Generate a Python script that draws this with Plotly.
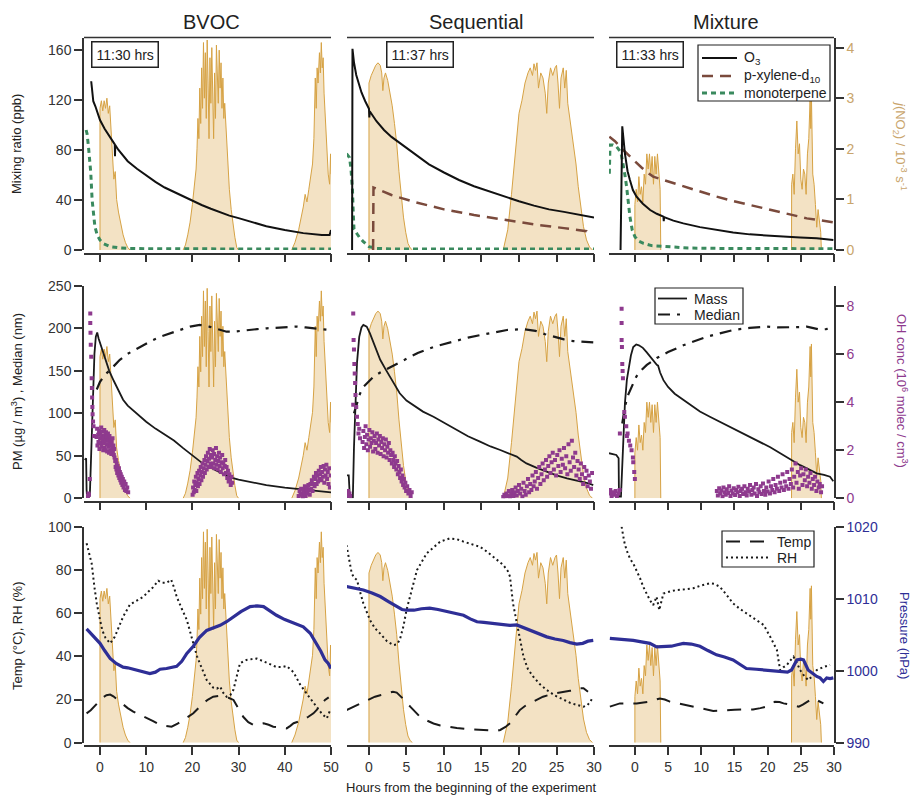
import plotly.graph_objects as go

W, H = 914, 795
FONT = "Liberation Sans, Arial, sans-serif"
AX = "#333333"
J_LINE = "#d6a244"
J_FILL = "#f3e2c4"
OH_COL = "#8e3a8e"
P_COL = "#2e2e96"
J_TXT = "#c9a56c"
O3_COL = "#111111"
PX_COL = "#7a4a3c"
MT_COL = "#3a8a5e"

PANEL_TITLES = ["BVOC", "Sequential", "Mixture"]
START_TIMES = ["11:30 hrs", "11:37 hrs", "11:33 hrs"]
X_RANGES = [[-3.46, 50.0], [-2.93, 30.0], [-3.9, 30.0]]
X_TICKS = [[0, 10, 20, 30, 40, 50], [0, 5, 10, 15, 20, 25, 30], [0, 5, 10, 15, 20, 25, 30]]
LEFT_RANGES = [[0, 170], [0, 250], [0, 100]]
LEFT_TICKS = [[0, 40, 80, 120, 160], [0, 50, 100, 150, 200, 250], [0, 20, 40, 60, 80, 100]]
J_RANGE = [0, 4.2]
J_TICKS = [0, 1, 2, 3, 4]
OH_RANGE = [0, 8.854]
OH_TICKS = [0, 2, 4, 6, 8]
P_RANGE = [990, 1020]
P_TICKS = [990, 1000, 1010, 1020]

# ---------------- j(NO2) (10^-3 s^-1), one list per daylight period ----------------
BVOC_J = [
    [(0, 0), (0.0, 2.8), (0.3, 2.95), (0.6, 2.75), (0.9, 2.95), (1.2, 2.8), (1.5, 3.0), (1.8, 2.7),
     (2.1, 2.85), (2.4, 2.4), (2.7, 1.9), (3.0, 1.4), (3.3, 1.55), (3.6, 1.0), (4.0, 0.75), (4.5, 0.5),
     (5.0, 0.3), (5.5, 0.15), (6.0, 0.05), (6.5, 0)],
    [(18.0, 0), (18.5, 0.1), (19.0, 0.3), (19.5, 0.55), (20.0, 0.9), (20.4, 1.2), (20.8, 1.6), (21.0, 2.0),
     (21.2, 2.6), (21.4, 2.2), (21.6, 3.2), (21.8, 2.5), (22.0, 3.6), (22.2, 2.8), (22.4, 4.1), (22.6, 3.0),
     (22.8, 3.9), (23.0, 2.6), (23.2, 4.15), (23.4, 3.3), (23.6, 2.2), (23.8, 3.8), (24.0, 2.9), (24.2, 4.0),
     (24.4, 3.1), (24.6, 2.2), (24.8, 3.5), (25.0, 2.6), (25.2, 4.05), (25.4, 3.4), (25.6, 2.9), (25.8, 3.95),
     (26.0, 3.2), (26.2, 3.7), (26.4, 2.8), (26.6, 3.4), (26.8, 2.6), (27.0, 2.9), (27.3, 2.3), (27.6, 1.8),
     (28.0, 1.2), (28.4, 0.8), (28.8, 0.5), (29.2, 0.25), (29.6, 0.05), (30.0, 0)],
    [(41.5, 0), (42.2, 0.15), (43.0, 0.4), (43.5, 0.6), (44.0, 0.85), (44.4, 1.1), (44.8, 0.95), (45.2, 1.2),
     (45.6, 1.5), (46.0, 1.7), (46.3, 2.2), (46.6, 3.4), (46.8, 2.8), (47.0, 3.6), (47.2, 3.3), (47.5, 3.9),
     (47.7, 3.5), (47.9, 4.1), (48.1, 3.6), (48.3, 3.8), (48.5, 3.1), (48.8, 2.6), (49.1, 2.0), (49.4, 1.5),
     (49.7, 1.3), (49.9, 1.9), (50.0, 1.5)],
]
SEQ_J = [
    [(0, 0), (0.0, 3.3), (0.3, 3.45), (0.6, 3.55), (0.9, 3.65), (1.2, 3.7), (1.5, 3.65), (1.7, 3.5),
     (1.85, 3.15), (2.0, 3.4), (2.2, 3.5), (2.5, 3.35), (2.8, 3.1), (3.1, 2.85), (3.4, 2.5), (3.7, 2.1),
     (4.0, 1.55), (4.3, 1.05), (4.6, 0.65), (4.9, 0.35), (5.2, 0.13), (5.5, 0.04), (5.8, 0)],
    [(17.9, 0), (18.5, 0.4), (19.0, 1.1), (19.4, 1.8), (19.7, 2.3), (20.0, 2.7), (20.4, 2.96), (20.8, 3.3),
     (21.2, 3.5), (21.5, 3.6), (21.8, 3.45), (22.0, 3.68), (22.2, 3.55), (22.4, 3.7), (22.6, 3.2), (22.9, 3.5),
     (23.2, 3.4), (23.5, 3.1), (23.7, 2.7), (23.9, 3.3), (24.2, 3.6), (24.5, 3.45), (24.8, 3.6), (25.0, 3.65),
     (25.2, 3.3), (25.4, 2.8), (25.6, 3.4), (25.9, 3.6), (26.1, 3.2), (26.3, 3.55), (26.5, 2.9), (26.8, 2.6),
     (27.2, 2.17), (27.6, 1.7), (27.9, 1.25), (28.3, 0.8), (28.6, 0.46), (29.0, 0.2), (29.4, 0.06), (29.8, 0)],
]
MIX_J = [
    [(0, 0), (0.0, 0.9), (0.2, 1.2), (0.4, 0.95), (0.6, 1.45), (0.8, 1.1), (1.0, 1.25), (1.2, 0.95),
     (1.4, 1.5), (1.6, 1.3), (1.8, 1.9), (2.0, 1.6), (2.2, 1.9), (2.4, 1.5), (2.6, 1.85), (2.8, 1.3),
     (3.0, 1.85), (3.2, 1.5), (3.4, 1.9), (3.6, 1.6), (3.8, 1.2), (3.9, 0)],
    [(23.6, 0), (23.62, 1.3), (23.8, 1.5), (24.0, 1.1), (24.2, 2.0), (24.4, 2.55), (24.6, 1.9), (24.8, 2.1),
     (25.0, 1.4), (25.2, 1.2), (25.4, 1.6), (25.6, 1.5), (25.8, 1.1), (26.0, 1.9), (26.2, 2.2), (26.4, 3.0),
     (26.5, 2.4), (26.6, 3.05), (26.8, 1.5), (27.0, 1.3), (27.2, 0.9), (27.4, 0.45), (27.6, 0.8), (27.8, 0.6),
     (28.0, 0.35), (28.1, 0)],
]

# ---------------- Row 1: mixing ratios (ppb) ----------------
BVOC_O3 = [(-1.9, 135), (-1.7, 126), (-1.45, 119), (-1.0, 115), (-0.5, 110), (0, 104), (1, 97), (2, 91),
           (3, 85.5), (3.2, 84.5), (3.25, 75), (3.3, 84), (4, 80), (5, 75), (6, 71), (8, 65), (10, 59.5),
           (12, 54.5), (14, 50), (16, 46.5), (18, 42.5), (20, 39), (22, 36), (24, 33), (26, 30), (28, 27.5),
           (30, 25.5), (33, 22), (36, 19), (40, 16), (44, 13.5), (48, 12), (49.7, 12), (50, 16)]
SEQ_O3 = [(-2.25, 0), (-2.2, 161), (-2.0, 150), (-1.7, 140), (-1.4, 134), (-1.0, 126), (-0.5, 119), (0, 113),
          (0.05, 106), (0.1, 111), (1, 103), (2, 96), (3, 90.5), (4, 86), (5, 81.5), (6, 77), (8, 68.5),
          (10, 62), (12, 56), (14, 51), (16, 47), (18, 42.5), (20, 39), (22, 35.5), (24, 32.5), (26, 30.5),
          (28, 28.5), (30, 26)]
MIX_O3 = [(-2.16, 0), (-1.9, 99), (-1.5, 77), (-1.1, 63), (-0.75, 56), (-0.3, 48), (0.25, 42.7), (1.2, 37),
          (2.3, 32), (3.3, 29), (4.3, 26.7), (4.35, 23), (4.4, 26.3), (5.8, 23.5), (7.3, 21.3), (9.8, 18.3),
          (12.3, 16), (14.8, 14), (17.3, 12.5), (19.9, 11.5), (22.4, 10.7), (24.9, 10), (27.4, 9.3),
          (29.0, 8.6), (29.9, 8)]
SEQ_PX = [(0.55, 0), (0.6, 50), (1, 49), (3, 44), (6, 38.5), (10, 32.5), (14, 28), (18, 24), (22, 20.5),
          (26, 17.5), (29, 15), (29.4, 12)]
MIX_PX = [(-3.85, 90.7), (-3, 87), (-1.76, 80), (-0.8, 75), (-0.25, 72), (1, 66), (2.0, 61.5), (2.76, 58.7),
          (4.3, 56), (5.8, 53.5), (7.3, 50.7), (9.8, 46.5), (12.3, 42.7), (14.8, 39.2), (17.3, 36),
          (19.9, 32.5), (22.4, 29.3), (24.2, 27), (25.9, 25.3), (27.6, 24), (29.4, 22.7), (30, 22)]
BVOC_MT = [(-3.0, 96), (-2.8, 93), (-2.5, 83), (-2.2, 72), (-2.0, 62), (-1.7, 40), (-1.4, 27), (-1.1, 18.7),
           (-0.6, 12), (0, 8), (0.8, 5), (2.2, 2.7), (4, 1.8), (6, 1.3), (10, 1.0), (20, 0.8), (30, 0.8),
           (40, 0.8), (50, 0.8)]
SEQ_MT = [(-3.0, 77), (-2.6, 74), (-2.4, 65), (-2.2, 48), (-2.1, 30), (-2.0, 17), (-1.6, 13), (-1.2, 9.5),
          (-0.75, 6.7), (0, 2.7), (1, 1.3), (3, 0.8), (10, 0.7), (20, 0.7), (30, 0.7)]
MIX_MT = [(-3.85, 61), (-3.75, 84), (-3.3, 84), (-2.76, 82.7), (-2.1, 78), (-1.8, 70), (-1.5, 60),
          (-1.25, 50.7), (-1.0, 37), (-0.75, 26.7), (-0.4, 16), (0, 10.7), (0.6, 7), (1.3, 5.3), (2.5, 3.5),
          (4.8, 2.7), (8, 1.6), (12, 1.3), (20, 1.0), (30, 1.0)]

# ---------------- Row 2: PM mass (ug/m3), median diameter (nm), OH (1e6 molec/cm3) ----------------
BVOC_MASS = [(-3.3, 45), (-3.0, 47), (-2.9, 10), (-2.8, 2), (-2.2, 3), (-1.9, 60), (-1.5, 120), (-1.2, 170),
             (-0.9, 190), (-0.6, 195), (-0.3, 188), (0.3, 178), (1, 165), (2, 150), (3, 138), (4, 126),
             (5, 116), (6, 109), (8, 99), (10, 90), (12, 82), (14, 75), (16, 68), (18, 59), (20, 50), (22, 42),
             (24, 36), (26, 30), (28, 25), (30, 22), (33, 18.5), (36, 15.5), (40, 12.5), (44, 10), (48, 8),
             (50, 7)]
SEQ_MASS = [(-3.0, 27), (-2.7, 27), (-2.55, 1), (-2.15, 1), (-2.0, 60), (-1.8, 120), (-1.6, 159), (-1.3, 190),
            (-1.0, 201), (-0.75, 204), (-0.3, 202), (0.13, 194), (0.8, 178), (1.5, 163), (2.2, 152),
            (2.8, 143), (3.5, 132), (4.1, 123.5), (5.0, 115), (5.9, 110), (7.2, 102), (8.6, 96), (10.2, 88),
            (11.7, 80), (13.2, 73), (14.8, 66.6), (16.2, 61), (17.5, 56.8), (18.6, 53), (19.7, 49), (20.3, 45),
            (21, 41), (22.3, 36), (23.7, 31.3), (25, 27), (26.4, 23.5), (27.5, 21.5), (28.6, 19.5),
            (29.3, 17.5), (29.9, 15.6)]
MIX_MASS = [(-3.9, 53), (-3.3, 52), (-2.8, 51), (-2.45, 47), (-2.4, 2), (-2.1, 2), (-1.8, 60), (-1.5, 112),
            (-1.2, 140), (-1.0, 151), (-0.6, 168), (-0.25, 178), (0.2, 181), (0.6, 180), (1.2, 177),
            (1.76, 172), (2.4, 166), (3.0, 159), (3.3, 157), (3.5, 156), (3.8, 148), (4.3, 139), (5.0, 131),
            (6.0, 123), (7.3, 115.5), (8.5, 108.5), (9.8, 102), (11.3, 96), (12.8, 90), (14.3, 84), (15.8, 78),
            (17.3, 72.5), (18.9, 66.5), (20.4, 60), (21.9, 53), (23.4, 46), (24.9, 39), (26.2, 34),
            (27.4, 29.4), (28.5, 27.5), (29.4, 25.4), (29.9, 20)]
BVOC_MED = [(-0.7, 128), (0, 137), (1, 145), (2.2, 151), (4.3, 163), (6, 170), (8.7, 178), (11, 185),
            (13, 190), (15, 194), (17.3, 198), (19.5, 202), (21.6, 204), (23.6, 202), (25.3, 199), (27.4, 196),
            (28.9, 196), (31.7, 198), (34, 199), (36.1, 200), (39, 201), (42.5, 202), (44.5, 201), (46.2, 200),
            (48, 199), (49.8, 198)]
SEQ_MED = [(-2.0, 100), (-1.6, 112), (-1.2, 123), (-0.75, 131), (0, 138), (0.6, 143), (1.5, 148), (2.8, 154),
           (4, 160), (5.0, 165), (6.5, 171), (8.6, 178), (10.2, 182), (11.7, 186), (13.2, 189), (14.8, 192),
           (16.6, 195), (18.4, 198), (20.6, 199), (22.2, 197), (23.5, 193), (24.6, 190), (26, 187),
           (27.2, 185), (28.5, 184), (29.9, 183.5)]
MIX_MED = [(-1.9, 88), (-1.5, 108), (-1.0, 122), (-0.5, 131), (0.2, 143), (0.76, 149), (1.8, 157), (3.3, 165),
           (5, 172), (7.3, 180), (9, 185), (10.8, 190), (12.8, 194), (14.8, 198), (17.3, 200.5), (19.9, 202),
           (21.5, 201), (23.4, 201), (25, 201.5), (25.9, 202), (27, 200), (27.9, 198.5), (28.8, 199),
           (29.4, 200)]
BVOC_OH = [(-2.6, 0.1), (-2.5, 0.2), (-2.4, 0.15), (-2.2, 0.8), (-2.1, 7.7), (-2.1, 7.3), (-2.05, 6.9),
           (-2.0, 6.4), (-1.9, 5.9), (-1.8, 5.0), (-1.75, 4.6), (-1.7, 4.2), (-1.65, 3.8), (-1.6, 3.5),
           (-1.5, 3.2), (-1.4, 3.0), (-1.3, 2.6),
           (-0.75, 2.55), (-0.62, 2.9), (-0.55, 2.2), (-0.4, 2.65), (-0.33, 2.35), (-0.2, 2.8), (-0.12, 2.05),
           (0.02, 2.5), (0.1, 2.72), (0.18, 2.3), (0.27, 2.95), (0.35, 2.15), (0.44, 2.6), (0.52, 2.4),
           (0.6, 2.78), (0.7, 2.0), (0.77, 2.52), (0.85, 2.3), (0.93, 2.85), (1.0, 2.1), (1.08, 2.62),
           (1.17, 2.4), (1.25, 2.0), (1.3, 2.75), (1.4, 2.25), (1.48, 2.55), (1.55, 1.95), (1.63, 2.45),
           (1.72, 2.7), (1.8, 2.15), (1.87, 2.4), (1.95, 1.9), (2.05, 2.6), (2.12, 2.3), (2.2, 2.0),
           (2.3, 2.45), (2.38, 2.2), (2.45, 1.85), (2.55, 2.35), (2.63, 2.1), (2.72, 2.5), (2.8, 1.95),
           (2.9, 2.2), (3.0, 1.8), (3.07, 2.05), (3.15, 1.7),
           (3.3, 1.55), (3.38, 1.3), (3.45, 1.6), (3.55, 1.2), (3.62, 1.45), (3.72, 1.05), (3.8, 1.35),
           (3.9, 1.15), (3.98, 0.95), (4.1, 1.25), (4.18, 0.85), (4.3, 1.1), (4.4, 0.75), (4.5, 1.0),
           (4.6, 0.65), (4.72, 0.9), (4.85, 0.55), (4.95, 0.8), (5.1, 0.45), (5.25, 0.7), (5.4, 0.35),
           (5.55, 0.6), (5.7, 0.3), (5.9, 0.45), (6.1, 0.25),
           (20.05, 0.15), (20.15, 0.45), (20.3, 0.25), (20.4, 0.7), (20.5, 0.35), (20.62, 0.55), (20.75, 0.9),
           (20.85, 0.3), (20.95, 0.65), (21.1, 1.05), (21.2, 0.5), (21.3, 0.8), (21.45, 1.15), (21.55, 0.6),
           (21.7, 0.95), (21.8, 1.3), (21.95, 0.75), (22.05, 1.1), (22.2, 1.45), (22.3, 0.9), (22.45, 1.25),
           (22.6, 1.6), (22.7, 1.05), (22.85, 1.4), (22.95, 1.75), (23.1, 1.2), (23.25, 1.55), (23.35, 1.9),
           (23.5, 1.3), (23.6, 1.65), (23.75, 2.05), (23.9, 1.45), (24.0, 1.8), (24.15, 1.3), (24.3, 1.7),
           (24.4, 2.0), (24.55, 1.45), (24.7, 1.85), (24.8, 1.25), (24.95, 1.6), (25.1, 2.1), (25.2, 1.4),
           (25.35, 1.75), (25.5, 1.2), (25.6, 1.55), (25.75, 1.9), (25.9, 1.35), (26.0, 1.7), (26.15, 1.1),
           (26.3, 1.5), (26.45, 1.8), (26.55, 1.25), (26.7, 1.45), (26.85, 1.0), (27.0, 1.35), (27.1, 1.6),
           (27.25, 1.05), (27.4, 1.3), (27.55, 0.85), (27.7, 1.15), (27.85, 0.7), (28.0, 1.0), (28.15, 0.8),
           (28.3, 0.55), (28.45, 0.9), (28.6, 0.65),
           (43.0, 0.1), (43.2, 0.3), (43.4, 0.15), (43.55, 0.4), (43.7, 0.2), (43.9, 0.05), (44.05, 0.35),
           (44.2, 0.2), (44.35, 0.5), (44.5, 0.1), (44.65, 0.3), (44.8, 0.45), (44.95, 0.2), (45.1, 0.55),
           (45.25, 0.35), (45.4, 0.15), (45.55, 0.6), (45.7, 0.4), (45.85, 0.75), (46.0, 0.3), (46.15, 0.6),
           (46.3, 0.9), (46.45, 0.5), (46.6, 0.8), (46.75, 1.05), (46.9, 0.6), (47.05, 0.95), (47.2, 0.7),
           (47.35, 1.15), (47.5, 0.8), (47.65, 1.0), (47.8, 1.3), (47.95, 0.75), (48.1, 1.1), (48.25, 0.9),
           (48.4, 1.35), (48.55, 0.65), (48.7, 1.2), (48.85, 0.95), (49.0, 1.4), (49.15, 0.8), (49.3, 1.1),
           (49.45, 0.6), (49.6, 1.25), (49.75, 0.45), (49.9, 0.95)]
SEQ_OH = [(-2.9, 0.15), (-2.8, 0.3), (-2.7, 0.1), (-2.6, 0.2), (-2.5, 0.1),
          (-2.1, 7.7), (-2.05, 6.6), (-2.0, 6.2), (-1.95, 5.6), (-1.9, 5.2), (-1.85, 4.8), (-1.8, 4.3),
          (-2.1, 3.9), (-1.7, 3.8), (-1.6, 3.4), (-1.5, 3.1), (-1.4, 2.7), (-1.3, 2.9), (-1.2, 2.5),
          (-0.85, 2.35), (-0.75, 2.8), (-0.65, 2.1), (-0.55, 2.55), (-0.45, 3.0), (-0.35, 2.25), (-0.25, 2.65),
          (-0.15, 2.0), (-0.05, 2.45), (0.05, 2.85), (0.15, 2.15), (0.25, 2.5), (0.35, 2.3), (0.45, 2.75),
          (0.55, 1.95), (0.65, 2.4), (0.75, 2.6), (0.85, 2.05), (0.95, 2.3), (1.05, 2.7), (1.15, 1.9),
          (1.25, 2.45), (1.35, 2.2), (1.45, 2.6), (1.55, 1.85), (1.65, 2.35), (1.75, 2.1), (1.85, 2.5),
          (1.95, 1.75), (2.05, 2.25), (2.15, 2.0), (2.25, 2.45), (2.35, 1.7), (2.45, 2.15), (2.55, 1.9),
          (2.65, 2.3), (2.75, 1.6), (2.85, 2.0), (2.95, 1.8), (3.05, 1.45), (3.15, 1.9), (3.25, 1.6),
          (3.35, 1.3), (3.45, 1.75), (3.55, 1.45), (3.65, 1.2), (3.75, 1.55), (3.85, 1.0), (3.95, 1.35),
          (4.05, 1.1), (4.15, 0.85), (4.25, 1.2), (4.35, 0.7), (4.45, 0.95), (4.55, 0.55), (4.65, 0.8),
          (4.75, 0.45), (4.85, 0.65), (4.95, 0.3), (5.1, 0.5), (5.25, 0.2), (5.4, 0.35), (5.55, 0.1),
          (5.7, 0.25),
          (17.9, 0.05), (18.05, 0.15), (18.2, 0.08), (18.35, 0.2), (18.5, 0.1), (18.65, 0.3), (18.8, 0.05),
          (18.95, 0.18), (19.1, 0.35), (19.25, 0.1), (19.4, 0.25), (19.55, 0.45), (19.7, 0.12), (19.85, 0.3),
          (20.0, 0.55), (20.15, 0.2), (20.3, 0.4), (20.45, 0.08), (20.6, 0.65), (20.75, 0.3), (20.9, 0.15),
          (21.05, 0.5), (21.2, 0.8), (21.35, 0.25), (21.5, 0.6), (21.65, 0.35), (21.8, 0.95), (21.95, 0.5),
          (22.1, 0.7), (22.25, 1.1), (22.4, 0.4), (22.55, 0.85), (22.7, 1.3), (22.85, 0.6), (23.0, 1.0),
          (23.15, 1.45), (23.3, 0.75), (23.45, 1.2), (23.6, 1.6), (23.75, 0.9), (23.9, 1.35), (24.05, 1.75),
          (24.2, 1.05), (24.35, 1.5), (24.5, 1.9), (24.65, 1.2), (24.8, 1.6), (24.95, 0.95), (25.1, 1.8),
          (25.25, 1.35), (25.4, 2.0), (25.55, 1.1), (25.7, 1.65), (25.85, 1.4), (26.0, 2.1), (26.15, 1.25),
          (26.3, 1.75), (26.45, 1.0), (26.6, 2.25), (26.75, 1.5), (26.9, 1.15), (27.05, 2.4), (27.2, 1.7),
          (27.35, 1.3), (27.5, 1.9), (27.65, 0.95), (27.8, 1.55), (27.95, 1.2), (28.1, 0.8), (28.25, 1.45),
          (28.4, 1.0), (28.55, 0.6), (28.7, 1.3), (28.85, 0.85), (29.0, 1.15), (29.15, 0.5), (29.3, 0.95),
          (29.45, 0.7), (29.6, 0.4), (29.75, 1.05)]
MIX_OH = [(-3.9, 0.2), (-3.7, 0.35), (-3.5, 0.1), (-3.3, 0.25), (-3.1, 0.15), (-2.9, 0.3), (-2.7, 0.1),
          (-2.5, 0.2), (-2.3, 0.35), (-2.26, 2.7),
          (-2.0, 7.9), (-2.0, 7.3), (-2.0, 6.6), (-1.95, 6.3), (-1.9, 5.6), (-1.85, 5.3), (-1.8, 5.0),
          (-1.6, 3.6), (-1.5, 3.4), (-1.3, 3.0), (-1.2, 2.6), (-1.1, 2.7), (-0.9, 2.4), (-0.7, 2.2),
          (-0.5, 2.0), (-0.3, 1.7), (-0.25, 1.5), (-0.1, 1.1), (0.0, 0.8),
          (12.35, 0.3), (12.5, 0.12), (12.7, 0.42), (12.85, 0.2), (13.0, 0.33), (13.2, 0.08), (13.35, 0.45),
          (13.5, 0.25), (13.7, 0.15), (13.85, 0.38), (14.05, 0.22), (14.2, 0.5), (14.4, 0.1), (14.55, 0.32),
          (14.75, 0.2), (14.9, 0.42), (15.1, 0.14), (15.25, 0.35), (15.45, 0.25), (15.6, 0.48), (15.8, 0.1),
          (15.95, 0.3), (16.15, 0.4), (16.3, 0.18), (16.5, 0.5), (16.65, 0.25), (16.85, 0.12), (17.0, 0.4),
          (17.2, 0.28), (17.35, 0.55), (17.55, 0.15), (17.7, 0.35), (17.9, 0.45), (18.05, 0.2), (18.25, 0.6),
          (18.4, 0.1), (18.6, 0.38), (18.75, 0.25), (18.95, 0.5), (19.1, 0.18), (19.3, 0.62), (19.45, 0.3),
          (19.65, 0.15), (19.8, 0.45), (20.0, 0.28), (20.15, 0.7), (20.35, 0.2), (20.5, 0.5), (20.7, 0.35),
          (20.85, 0.8), (21.05, 0.25), (21.2, 0.55), (21.4, 0.4), (21.55, 0.9), (21.75, 0.3), (21.9, 0.65),
          (22.1, 0.45), (22.25, 1.0), (22.45, 0.35), (22.6, 0.7), (22.8, 0.5), (22.95, 1.1), (23.15, 0.4),
          (23.3, 0.8), (23.5, 0.6), (23.65, 1.2), (23.85, 0.45), (24.0, 0.9), (24.2, 1.45), (24.35, 0.65),
          (24.55, 1.1), (24.7, 0.4), (24.9, 0.95), (25.05, 1.25), (25.25, 0.55), (25.4, 1.0), (25.6, 0.75),
          (25.75, 1.2), (25.95, 0.5), (26.1, 0.9), (26.3, 0.65), (26.45, 1.05), (26.65, 0.4), (26.8, 0.8),
          (27.0, 0.55), (27.15, 0.9), (27.35, 0.3), (27.5, 0.7), (27.7, 0.45), (27.85, 0.6), (28.05, 0.25),
          (28.2, 0.5)]

# ---------------- Row 3: Temp (C), RH (%), Pressure (hPa) ----------------
BVOC_RH = [(-2.9, 92.3), (-2.4, 88), (-1.8, 83), (-1.2, 72), (-0.7, 64.5), (0, 57), (0.5, 52), (1.2, 48.5),
           (2.2, 46), (3.2, 49), (4.1, 54), (5.0, 58.3), (6.5, 64), (8.0, 66), (9.4, 67.6), (10.5, 70),
           (11.5, 72), (12.6, 75), (13.5, 74), (14.4, 74), (15.4, 75.5), (16.0, 72), (16.6, 67.6), (17.7, 62),
           (18.8, 56.8), (20.2, 46), (21.0, 40), (21.6, 36.8), (23.1, 29), (24.5, 25.5), (25.3, 25), (26, 26),
           (26.7, 23), (27.4, 21.3), (28.2, 22), (28.9, 24.6), (29.6, 31), (30.3, 36.8), (31.7, 38.3),
           (33.9, 39), (36.1, 37), (38.2, 35), (39.5, 35), (40.4, 35.5), (41.9, 32.6), (43.3, 27),
           (44.7, 22.8), (46.0, 19), (46.9, 16.7), (48.0, 13.5), (49.1, 11.3), (49.8, 15)]
BVOC_T = [(-2.9, 13.6), (-2.0, 15), (-0.7, 18), (0.3, 20.5), (1.4, 22), (2.2, 22.3), (2.9, 21.5), (4.0, 19.5),
          (5.0, 17.6), (6.0, 16), (7.2, 14.4), (8.6, 13), (10.1, 11.3), (11.5, 10), (13.0, 8.2), (14.3, 7.6),
          (15.5, 7.4), (16.8, 8.8), (18.0, 10.5), (19.1, 12), (20.2, 13.6), (21.3, 16), (22.3, 18.2),
          (23.4, 20), (24.5, 21.3), (25.6, 21.6), (26.7, 21.3), (27.8, 20.8), (28.9, 19.8), (30.0, 16),
          (31.0, 12), (32.1, 9.5), (33.2, 8.2), (34.3, 8.4), (35.4, 9.0), (36.5, 8.3), (37.5, 7.4), (39.0, 7.0),
          (40.4, 6.6), (41.2, 7.8), (41.9, 9.0), (43.0, 9.8), (44.0, 10.5), (45.1, 12), (46.2, 13.6),
          (47.5, 16.5), (48.7, 19.8), (49.5, 21)]
BVOC_P = [(-2.9, 1005.8), (-2.0, 1005.2), (-1.0, 1004.5), (0, 1003.8), (1.0, 1002.8), (2.2, 1001.7),
          (3.5, 1001.0), (5.0, 1000.5), (6.0, 1000.4), (7.2, 1000.2), (8.5, 1000.0), (9.5, 999.8),
          (10.8, 999.6), (12.0, 999.8), (13.0, 1000.2), (14.4, 1000.3), (15.5, 1000.4), (16.6, 1000.6),
          (17.7, 1001.3), (18.8, 1002.4), (20.2, 1003.4), (21.5, 1004.6), (23.1, 1005.6), (24.5, 1005.9),
          (26.0, 1006.3), (27.4, 1006.8), (28.9, 1007.5), (30.5, 1008.2), (32.5, 1008.9), (34.0, 1009.0),
          (35.4, 1008.9), (36.8, 1008.3), (38.2, 1007.7), (40.0, 1007.1), (41.8, 1006.6), (43.0, 1006.3),
          (44.0, 1006.1), (45.5, 1005.2), (46.9, 1003.8), (47.8, 1002.7), (48.7, 1001.5), (49.4, 1001.0),
          (50.0, 1000.3)]
SEQ_RH = [(-3.0, 91.5), (-2.6, 84), (-2.3, 78.4), (-2.0, 76.5), (-1.6, 75.3), (-1.2, 70), (-0.75, 64.5),
          (0.13, 56.8), (0.8, 53), (1.47, 50.6), (2.4, 47), (3.24, 45.2), (3.7, 45.5), (4.1, 47.5), (4.6, 54),
          (5.0, 61.4), (5.7, 71), (6.4, 79.9), (7.7, 87.7), (8.6, 90.5), (9.5, 93.1), (10.8, 94.6),
          (11.7, 94.2), (12.6, 93.1), (13.7, 92), (14.8, 90.7), (15.7, 88.5), (16.6, 86), (17.9, 82.3),
          (18.5, 79.5), (18.8, 76.9), (19.2, 64.5), (19.7, 55.3), (20.6, 39.8), (21.2, 34), (21.9, 30.6),
          (22.8, 27), (23.7, 24.4), (24.8, 21.8), (25.9, 19.8), (26.8, 18.5), (27.7, 17.5), (28.6, 16.7),
          (29.1, 17.3), (29.5, 19), (29.9, 21.3)]
SEQ_T = [(-3.0, 15.1), (-2.3, 16.3), (-1.6, 17.4), (-0.75, 19), (0.13, 20.5), (0.8, 21.3), (1.5, 22),
         (2.4, 22.8), (3.2, 23.6), (3.7, 23.2), (4.1, 22), (4.8, 19.5), (5.5, 16.7), (6.1, 14.3), (6.8, 12),
         (7.7, 10.3), (8.6, 8.9), (9.5, 8.0), (10.4, 7.4), (11.7, 6.8), (13.0, 6.3), (13.9, 6.1), (14.8, 5.9),
         (15.7, 5.6), (16.6, 5.4), (17.1, 5.5), (17.5, 5.9), (18.2, 7.3), (18.8, 9), (19.5, 12), (20.1, 15.1),
         (20.8, 17), (21.5, 18.2), (22.3, 19.8), (23.2, 21.3), (24.5, 22.6), (25.9, 23.6), (26.8, 24.0),
         (27.7, 24.4), (28.2, 25.2), (28.6, 25.2), (29.0, 24.4), (29.2, 23.6)]
SEQ_P = [(-3.0, 1011.7), (-2.0, 1011.5), (-0.75, 1011.2), (0.4, 1010.8), (1.5, 1010.3), (2.6, 1009.6),
         (3.7, 1008.9), (4.4, 1008.5), (5.0, 1008.4), (6.0, 1008.4), (7.0, 1008.6), (8.1, 1008.7),
         (9.2, 1008.5), (10.4, 1008.2), (11.5, 1008.0), (12.6, 1007.7), (13.5, 1007.2), (14.4, 1006.8),
         (15.3, 1006.7), (16.2, 1006.6), (17.0, 1006.5), (17.9, 1006.35), (18.8, 1006.3), (19.7, 1006.35),
         (20.6, 1006.0), (21.5, 1005.65), (22.6, 1005.2), (23.7, 1004.7), (24.8, 1004.4), (25.9, 1004.2),
         (26.8, 1003.9), (27.7, 1003.7), (28.5, 1003.8), (29.2, 1004.1), (29.9, 1004.2)]
MIX_RH = [(-2.0, 100), (-1.6, 93), (-1.26, 89.2), (-0.7, 85), (-0.25, 83), (0.25, 79.9), (0.8, 76),
          (1.26, 72.2), (1.8, 68.5), (2.26, 66), (2.76, 63.7), (3.0, 66), (3.27, 67.6), (3.67, 61.4), (4.0, 66),
          (4.3, 69.1), (5.3, 70), (6.28, 70.7), (7.5, 71), (8.8, 71.5), (10.0, 72.8), (11.3, 73.8), (12.0, 73.5),
          (12.8, 72.2), (13.8, 68.5), (14.8, 64.5), (15.8, 62), (16.8, 59.9), (18.0, 57.5), (19.4, 54.5),
          (20.4, 49), (21.0, 45), (21.4, 42.9), (21.7, 37), (21.9, 33.6), (22.4, 35), (22.9, 36), (23.4, 38),
          (23.9, 39.8), (24.4, 37), (24.9, 33.6), (25.5, 31), (26.1, 29), (26.8, 31), (27.4, 33.6), (28.4, 35),
          (29.4, 36)]
MIX_T = [(-3.77, 16.7), (-3.0, 17.3), (-2.26, 18.2), (-1.0, 18.2), (0.25, 18.2), (1.3, 18.6), (2.26, 19),
         (3.0, 19.8), (3.77, 20.5), (4.5, 20), (5.28, 19), (6.5, 18.2), (7.8, 17.4), (8.8, 16.7), (9.8, 15.9),
         (10.8, 15.2), (11.8, 14.7), (12.8, 14.8), (13.8, 15.1), (15.0, 15.3), (16.3, 15.4), (17.8, 15.4),
         (18.9, 16), (19.9, 16.7), (20.5, 17.8), (21.1, 19), (21.8, 18.8), (22.4, 18.2), (23.2, 17.8),
         (23.9, 17.4), (24.7, 16.7), (25.3, 17.6), (25.9, 19), (26.4, 19.8), (26.9, 20.5), (27.6, 19.5),
         (28.4, 18.2)]
MIX_P = [(-3.77, 1004.5), (-2.5, 1004.4), (-1.2, 1004.3), (-0.25, 1004.2), (1.0, 1004.0), (2.26, 1003.8),
         (3.27, 1003.3), (4.3, 1003.3), (5.5, 1003.4), (6.4, 1003.6), (7.3, 1003.8), (8.5, 1003.7),
         (9.8, 1003.4), (11.0, 1002.8), (12.3, 1002.2), (13.5, 1001.9), (14.8, 1001.5), (15.8, 1000.9),
         (16.8, 1000.3), (18.3, 1000.2), (19.9, 1000.1), (21.1, 1000.0), (22.4, 999.9), (23.0, 999.8),
         (23.6, 1000.1), (24.0, 1000.8), (24.4, 1001.5), (25.0, 1001.6), (25.4, 1001.5), (26.1, 1000.1),
         (26.8, 999.6), (27.4, 999.2), (27.9, 999.0), (28.4, 998.5), (28.9, 999.0), (29.4, 998.9),
         (29.9, 999.0)]

J_DATA = [BVOC_J, SEQ_J, MIX_J]
O3_DATA = [BVOC_O3, SEQ_O3, MIX_O3]
PX_DATA = [None, SEQ_PX, MIX_PX]
MT_DATA = [BVOC_MT, SEQ_MT, MIX_MT]
MASS_DATA = [BVOC_MASS, SEQ_MASS, MIX_MASS]
MED_DATA = [BVOC_MED, SEQ_MED, MIX_MED]
OH_DATA = [BVOC_OH, SEQ_OH, MIX_OH]
RH_DATA = [BVOC_RH, SEQ_RH, MIX_RH]
T_DATA = [BVOC_T, SEQ_T, MIX_T]
P_DATA = [BVOC_P, SEQ_P, MIX_P]

# ---------------- line styles ----------------
STY_O3 = dict(color=O3_COL, width=2)
STY_PX = dict(color=PX_COL, width=2.5, dash="11px,7px")
STY_MT = dict(color=MT_COL, width=3, dash="5px,4px")
STY_MASS = dict(color="#1a1a1a", width=1.8)
STY_MED = dict(color="#1a1a1a", width=2.2, dash="12px,7px,3px,7px")
STY_T = dict(color="#1a1a1a", width=2, dash="14px,10px")
STY_RH = dict(color="#1a1a1a", width=2, dash="2px,3px")

# ---------------- layout geometry (pixels of the 914x795 page) ----------------
X_DOM = [(84, 331), (347, 594), (609, 834)]
Y_DOM = [(37.5, 250), (285.8, 498.3), (526.7, 742.7)]
XLINE_Y = [253.5, 501.7, 746]

LEGENDS = [
    (698, 45, 830, 101, 702, 737, 742,
     [("O<sub>3</sub>", 58, STY_O3), ("p-xylene-d<sub>10</sub>", 76, STY_PX), ("monoterpene", 93, STY_MT)]),
    (655, 288, 743, 324, 658, 687, 692, [("Mass", 298.5, STY_MASS), ("Median", 314.5, STY_MED)]),
    (722, 531, 814, 567, 726, 770, 775, [("Temp", 541.5, STY_T), ("RH", 557.5, STY_RH)]),
]


def fx(px):
    return px / W


def fy(py):
    return 1 - py / H


def xs(d):
    return [p[0] for p in d]


def ys(d):
    return [p[1] for p in d]


fig = go.Figure()
layout = {}

TICKFONT = 14
tick_style = dict(showline=True, linecolor=AX, linewidth=1.5, ticks="outside", ticklen=8, tickwidth=1.5,
                  tickcolor=AX, showgrid=False, zeroline=False,
                  tickfont=dict(size=TICKFONT, color=AX, family=FONT))

for r in range(3):
    for c in range(3):
        p = r * 3 + c
        n = p + 1
        xkey = "xaxis" if n == 1 else f"xaxis{n}"
        xref = "x" if n == 1 else f"x{n}"
        jkey = "yaxis" if n == 1 else f"yaxis{n}"
        jref = "y" if n == 1 else f"y{n}"
        lkey, lref = f"yaxis{10 + p}", f"y{10 + p}"
        rkey, rref = f"yaxis{19 + p}", f"y{19 + p}"
        ydom = [fy(Y_DOM[r][1]), fy(Y_DOM[r][0])]

        layout[xkey] = dict(domain=[fx(X_DOM[c][0]), fx(X_DOM[c][1])], range=X_RANGES[c], anchor="free",
                            position=fy(XLINE_Y[r]), tickvals=X_TICKS[c], showticklabels=(r == 2), **tick_style)
        jvis = (r == 0 and c == 2)
        jax = dict(domain=ydom, range=J_RANGE, anchor=xref, side="right", visible=jvis, **tick_style)
        jax["tickvals"] = J_TICKS
        jax["tickfont"] = dict(size=TICKFONT, color=J_TXT, family=FONT)
        layout[jkey] = jax
        lax = dict(range=LEFT_RANGES[r], anchor=xref, overlaying=jref, side="left", visible=(c == 0),
                   tickvals=LEFT_TICKS[r], **tick_style)
        layout[lkey] = lax
        if r == 1:
            rax = dict(range=OH_RANGE, tickvals=OH_TICKS)
            rcol = OH_COL
        else:
            rax = dict(range=P_RANGE, tickvals=P_TICKS)
            rcol = P_COL
        rax.update(anchor=xref, overlaying=jref, side="right", visible=(c == 2 and r > 0))
        st = dict(tick_style)
        st["tickfont"] = dict(size=TICKFONT, family=FONT, color=rcol)
        rax.update(st)
        layout[rkey] = rax

        for day in J_DATA[c]:
            fig.add_trace(go.Scatter(x=xs(day), y=ys(day), xaxis=xref, yaxis=jref, mode="lines",
                                     fill="tozeroy", fillcolor=J_FILL, line=dict(color=J_LINE, width=1),
                                     showlegend=False, hoverinfo="skip", name="j(NO2)"))
        if r == 0:
            mt = MT_DATA[c]
            fig.add_trace(go.Scatter(x=xs(mt), y=ys(mt), xaxis=xref, yaxis=lref, mode="lines",
                                     line=STY_MT, name="monoterpene", showlegend=False))
            if PX_DATA[c] is not None:
                px_ = PX_DATA[c]
                fig.add_trace(go.Scatter(x=xs(px_), y=ys(px_), xaxis=xref, yaxis=lref, mode="lines",
                                         line=STY_PX, name="p-xylene-d10", showlegend=False))
            o3 = O3_DATA[c]
            fig.add_trace(go.Scatter(x=xs(o3), y=ys(o3), xaxis=xref, yaxis=lref, mode="lines",
                                     line=STY_O3, name="O3", showlegend=False))
        elif r == 1:
            oh = OH_DATA[c]
            fig.add_trace(go.Scatter(x=xs(oh), y=ys(oh), xaxis=xref, yaxis=rref, mode="markers",
                                     marker=dict(symbol="square", size=4, color=OH_COL, line=dict(width=0)),
                                     name="OH", showlegend=False))
            ms = MASS_DATA[c]
            fig.add_trace(go.Scatter(x=xs(ms), y=ys(ms), xaxis=xref, yaxis=lref, mode="lines",
                                     line=STY_MASS, name="Mass", showlegend=False))
            md = MED_DATA[c]
            fig.add_trace(go.Scatter(x=xs(md), y=ys(md), xaxis=xref, yaxis=lref, mode="lines",
                                     line=STY_MED, name="Median", showlegend=False))
        else:
            pr = P_DATA[c]
            fig.add_trace(go.Scatter(x=xs(pr), y=ys(pr), xaxis=xref, yaxis=rref, mode="lines",
                                     line=dict(color=P_COL, width=3.2), name="Pressure", showlegend=False))
            tt = T_DATA[c]
            fig.add_trace(go.Scatter(x=xs(tt), y=ys(tt), xaxis=xref, yaxis=lref, mode="lines",
                                     line=STY_T, name="Temp", showlegend=False))
            rh = RH_DATA[c]
            fig.add_trace(go.Scatter(x=xs(rh), y=ys(rh), xaxis=xref, yaxis=lref, mode="lines",
                                     line=STY_RH, name="RH", showlegend=False))

shapes = []
annotations = []
for c in range(3):
    shapes.append(dict(type="line", xref="paper", yref="paper", x0=fx(X_DOM[c][0]), x1=fx(X_DOM[c][1]),
                       y0=fy(37.5), y1=fy(37.5), line=dict(color=AX, width=1.5)))

for (bx0, by0, bx1, by1, sx0, sx1, tx, items) in LEGENDS:
    shapes.append(dict(type="rect", xref="paper", yref="paper", x0=fx(bx0), x1=fx(bx1), y0=fy(by1), y1=fy(by0),
                       line=dict(color="#222", width=1.2), fillcolor="white", layer="above"))
    for label, ry, sty in items:
        shapes.append(dict(type="line", xref="paper", yref="paper", x0=fx(sx0), x1=fx(sx1), y0=fy(ry), y1=fy(ry),
                           line=sty, layer="above"))
        annotations.append(dict(text=label, xref="paper", yref="paper", x=fx(tx), y=fy(ry), xanchor="left",
                                yanchor="middle", showarrow=False, font=dict(size=14, color="#222", family=FONT)))

TITLE_CX = [211, 476, 726]
for c in range(3):
    annotations.append(dict(text=PANEL_TITLES[c], xref="paper", yref="paper", x=fx(TITLE_CX[c]), y=fy(22),
                            xanchor="center", yanchor="middle", showarrow=False,
                            font=dict(size=20, color="#222", family=FONT)))
BOX_CX = [125, 420, 650]
for c in range(3):
    annotations.append(dict(text=START_TIMES[c], xref="paper", yref="paper", x=fx(BOX_CX[c]), y=fy(55),
                            xanchor="center", yanchor="middle", showarrow=False, bgcolor="white",
                            bordercolor="#222", borderwidth=1.5, borderpad=4,
                            font=dict(size=14, color="#222", family=FONT)))

left_titles = [("Mixing ratio (ppb)", 144), ("PM (µg / m<sup>3</sup>) , Median (nm)", 392),
               ("Temp (°C), RH (%)", 636)]
for txt, cy in left_titles:
    annotations.append(dict(text=txt, xref="paper", yref="paper", x=fx(17), y=fy(cy), xanchor="center",
                            yanchor="middle", textangle=-90, showarrow=False,
                            font=dict(size=13, color="#222", family=FONT)))
right_titles = [("<i>j</i>(NO<sub>2</sub>) / 10<sup>-3</sup> s<sup>-1</sup>", 146, 900, J_TXT),
                ("OH conc (10<sup>6</sup> molec / cm<sup>3</sup>)", 391, 902, OH_COL),
                ("Pressure (hPa)", 635, 905, P_COL)]
for txt, cy, cx, col in right_titles:
    annotations.append(dict(text=txt, xref="paper", yref="paper", x=fx(cx), y=fy(cy), xanchor="center",
                            yanchor="middle", textangle=90, showarrow=False,
                            font=dict(size=13, color=col, family=FONT)))
annotations.append(dict(text="Hours from the beginning of the experiment", xref="paper", yref="paper",
                        x=fx(471), y=fy(787), xanchor="center", yanchor="middle", showarrow=False,
                        font=dict(size=13, color="#222", family=FONT)))

fig.update_layout(**layout)
# the figure fills the whole browser window (autosize), so paper fractions map onto the window exactly
fig.update_layout(autosize=True, margin=dict(l=0, r=0, t=0, b=0, autoexpand=False), plot_bgcolor="white",
                  paper_bgcolor="white", font=dict(family=FONT, size=13, color="#222"),
                  shapes=shapes, annotations=annotations, showlegend=False)

PAGE_JS = ("document.documentElement.style.margin='0';document.body.style.margin='0';"
           "document.body.style.padding='0';document.documentElement.style.overflow='hidden';"
           "document.body.style.overflow='hidden';"
           "var gd=document.getElementById('{plot_id}');gd.style.position='fixed';"
           "gd.style.top='0px';gd.style.left='0px';gd.style.width='100vw';gd.style.height='100vh';"
           "Plotly.Plots.resize(gd);")
fig.write_html("out.html", post_script=PAGE_JS, default_width="100vw", default_height="100vh",
               config={"displayModeBar": False, "responsive": True})
